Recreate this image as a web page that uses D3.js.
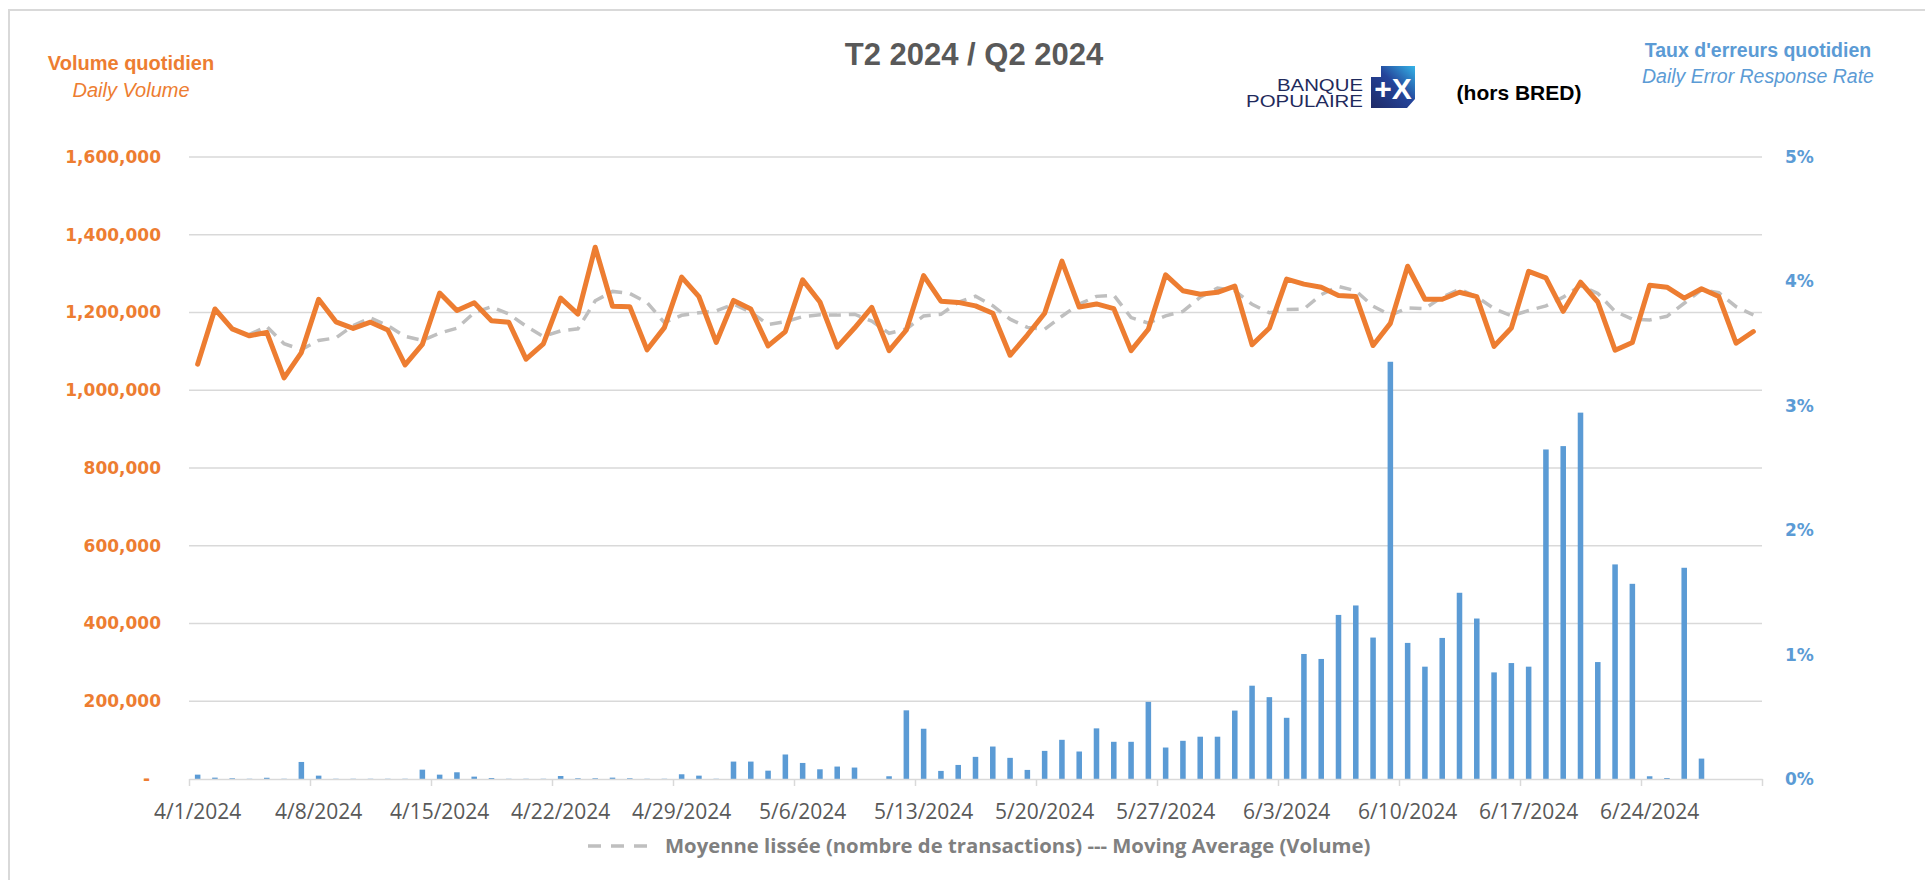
<!DOCTYPE html>
<meta charset="utf-8">
<style>
    body { margin: 0; background: #fff; }
    text { font-family: "Liberation Sans", Arial, sans-serif; }
    .grid line { stroke: #d9d9d9; stroke-width: 1.5px; }
    .axis path, .axis line { stroke: #d9d9d9; stroke-width: 1.5px; }
    .axis--y text { font-family: "DejaVu Sans", sans-serif; font-weight: bold; font-size: 17px; }
    .axis--x text { font-family: "Open Sans", sans-serif; font-size: 21px; fill: #595959; }
</style>
<svg width="1925" height="880"></svg>
<script src="https://d3js.org/d3.v7.min.js"></script>
<script>

    // Q2 2024, one category per day
    var startDay = new Date(2024, 3, 1),
        endDay = new Date(2024, 6, 1);

    var weekLabels = ["4/1/2024", "4/8/2024", "4/15/2024", "4/22/2024", "4/29/2024", "5/6/2024", "5/13/2024",
        "5/20/2024", "5/27/2024", "6/3/2024", "6/10/2024", "6/17/2024", "6/24/2024"];

    // daily volume (transactions)
    var volume = [
        1067000, 1209000, 1158000, 1140000, 1149000, 1032000, 1097000,
        1234000, 1176000, 1159000, 1175000, 1155000, 1065000, 1118000,
        1250000, 1205000, 1225000, 1179000, 1175000, 1080000, 1119000,
        1237000, 1196000, 1368000, 1216000, 1215000, 1104000, 1161000,
        1291000, 1241000, 1123000, 1231000, 1209000, 1114000, 1151000,
        1284000, 1227000, 1111000, 1160000, 1213000, 1102000, 1155000,
        1295000, 1229000, 1226000, 1217000, 1198000, 1090000, 1142000,
        1198000, 1332000, 1214000, 1222000, 1210000, 1102000, 1157000,
        1297000, 1256000, 1247000, 1252000, 1268000, 1117000, 1160000,
        1286000, 1273000, 1265000, 1244000, 1241000, 1115000, 1172000,
        1319000, 1234000, 1234000, 1252000, 1241000, 1113000, 1160000,
        1306000, 1289000, 1203000, 1278000, 1227000, 1103000, 1123000,
        1270000, 1265000, 1237000, 1261000, 1241000, 1121000, 1151000
    ];

    // daily error response rate (%)
    var errorRate = [
        0.035, 0.011, 0.006, 0.002, 0.010, 0.002, 0.137,
        0.027, 0.002, 0.002, 0.002, 0.002, 0.002, 0.075,
        0.035, 0.054, 0.019, 0.008, 0.002, 0.002, 0.002,
        0.024, 0.006, 0.006, 0.011, 0.006, 0.002, 0.002,
        0.038, 0.027, 0.002, 0.140, 0.140, 0.067, 0.197,
        0.129, 0.078, 0.100, 0.092, 0.000, 0.022, 0.552,
        0.404, 0.065, 0.113, 0.178, 0.261, 0.170, 0.073,
        0.226, 0.315, 0.221, 0.407, 0.299, 0.299, 0.620,
        0.253, 0.307, 0.340, 0.340, 0.550, 0.750, 0.658,
        0.492, 1.005, 0.965, 1.319, 1.395, 1.137, 3.354,
        1.094, 0.903, 1.134, 1.497, 1.290, 0.857, 0.932,
        0.903, 2.649, 2.676, 2.945, 0.940, 1.725, 1.569,
        0.022, 0.008, 1.698, 0.164, 0.000, 0.000, 0.000
    ];

    // moving average trendline period
    var maPeriod = 4;

    var days = d3.timeDay.range(startDay, endDay);

    var movingAvg = volume.map(function (v, i) {
        return i < maPeriod - 1 ? null : d3.mean(volume.slice(i - maPeriod + 1, i + 1));
    });

    var svg = d3.select("svg"),
        plot = {left: 189, right: 1762, top: 157, bottom: 779};

    var orange = "#ed7d31", blue = "#5b9bd5";

    var x = d3.scaleBand().domain(d3.range(days.length)).range([plot.left, plot.right])
            .paddingInner(0.68).paddingOuter(0.34),
        xEdge = d3.scaleLinear().domain([0, days.length]).range([plot.left, plot.right]),
        yL = d3.scaleLinear().domain([0, 1600000]).range([plot.bottom, plot.top]),
        yR = d3.scaleLinear().domain([0, 5]).range([plot.bottom, plot.top]);

    // outer frame
    svg.append("rect")
        .attr("x", 9).attr("y", 10)
        .attr("width", 1930).attr("height", 900)
        .attr("fill", "none")
        .attr("stroke", "#d9d9d9")
        .attr("stroke-width", 2);

    var volTicks = d3.range(0, 1600001, 200000);

    svg.append("g")
        .attr("class", "grid")
        .selectAll("line")
        .data(volTicks.slice(1))
        .enter().append("line")
        .attr("x1", plot.left).attr("x2", plot.right)
        .attr("y1", yL).attr("y2", yL);

    // bars: error rate
    svg.append("g")
        .selectAll("rect")
        .data(errorRate)
        .enter().append("rect")
        .attr("x", function (d, i) { return x(i); })
        .attr("y", function (d) { return yR(d); })
        .attr("width", x.bandwidth())
        .attr("height", function (d) { return plot.bottom - yR(d); })
        .attr("fill", blue);

    // x axis: week ticks on day boundaries, labels on day centres
    svg.append("g")
        .attr("class", "axis axis--x")
        .attr("transform", "translate(0," + plot.bottom + ")")
        .call(d3.axisBottom(xEdge).tickValues(d3.range(0, days.length + 1, 7)).tickSize(7).tickSizeOuter(0).tickFormat(""));

    svg.append("g")
        .attr("class", "axis axis--x")
        .attr("transform", "translate(0," + plot.bottom + ")")
        .call(d3.axisBottom(x).tickValues(d3.range(0, days.length, 7)).tickSize(0).tickPadding(25)
            .tickFormat(function (d, i) { return weekLabels[i]; }))
        .call(function (g) { g.select(".domain").remove(); });

    var gL = svg.append("g")
        .attr("class", "axis axis--y")
        .attr("transform", "translate(" + plot.left + ",0)")
        .call(d3.axisLeft(yL).tickValues(volTicks).tickSize(0).tickPadding(28)
            .tickFormat(function (d) { return d === 0 ? "-" : d3.format(",")(d); }));
    gL.select(".domain").remove();
    gL.selectAll("text").attr("fill", orange);
    gL.selectAll("text").filter(function (d) { return d === 0; }).attr("dx", -11);

    var gR = svg.append("g")
        .attr("class", "axis axis--y")
        .attr("transform", "translate(" + plot.right + ",0)")
        .call(d3.axisRight(yR).ticks(5).tickSize(0).tickPadding(23)
            .tickFormat(function (d) { return d + "%"; }));
    gR.select(".domain").remove();
    gR.selectAll("text").attr("fill", blue);

    var line = d3.line()
        .defined(function (d) { return d != null; })
        .x(function (d, i) { return x(i) + x.bandwidth() / 2; })
        .y(function (d) { return yL(d); });

    svg.append("path")
        .datum(movingAvg)
        .attr("d", line)
        .attr("fill", "none")
        .attr("stroke", "#bfbfbf")
        .attr("stroke-width", 3.5)
        .attr("stroke-dasharray", "12,8");

    svg.append("path")
        .datum(volume)
        .attr("d", line)
        .attr("fill", "none")
        .attr("stroke", orange)
        .attr("stroke-width", 5)
        .attr("stroke-linejoin", "round")
        .attr("stroke-linecap", "round");

    // titles
    svg.append("text")
        .attr("x", 974).attr("y", 54).attr("dy", "0.35em")
        .attr("text-anchor", "middle")
        .style("font-size", "31px").style("font-weight", "bold")
        .attr("fill", "#595959")
        .text("T2 2024 / Q2 2024");

    svg.append("text")
        .attr("x", 131).attr("y", 63).attr("dy", "0.35em")
        .attr("text-anchor", "middle")
        .style("font-size", "20px").style("font-weight", "bold")
        .attr("fill", orange)
        .text("Volume quotidien");

    svg.append("text")
        .attr("x", 131).attr("y", 90).attr("dy", "0.35em")
        .attr("text-anchor", "middle")
        .style("font-size", "20px").style("font-style", "italic")
        .attr("fill", orange)
        .text("Daily Volume");

    svg.append("text")
        .attr("x", 1758).attr("y", 50).attr("dy", "0.35em")
        .attr("text-anchor", "middle")
        .style("font-size", "19.5px").style("font-weight", "bold")
        .attr("fill", blue)
        .text("Taux d'erreurs quotidien");

    svg.append("text")
        .attr("x", 1758).attr("y", 76).attr("dy", "0.35em")
        .attr("text-anchor", "middle")
        .style("font-size", "19.5px").style("font-style", "italic")
        .attr("fill", blue)
        .text("Daily Error Response Rate");

    svg.append("text")
        .attr("x", 1519).attr("y", 93).attr("dy", "0.35em")
        .attr("text-anchor", "middle")
        .style("font-size", "21px").style("font-weight", "bold")
        .attr("fill", "#000")
        .text("(hors BRED)");

    // Banque Populaire logo
    var grad = svg.append("defs").append("linearGradient")
        .attr("id", "bp").attr("x1", "0%").attr("y1", "100%").attr("x2", "100%").attr("y2", "0%");
    grad.append("stop").attr("offset", "0%").attr("stop-color", "#1f2a66");
    grad.append("stop").attr("offset", "55%").attr("stop-color", "#24449a");
    grad.append("stop").attr("offset", "100%").attr("stop-color", "#34b4e8");

    svg.append("path")
        .attr("d", "M1381,66 L1415,66 L1415,99 L1407,108 L1371,108 L1371,77 L1381,77 Z")
        .attr("fill", "url(#bp)");

    svg.append("text")
        .attr("x", 1393).attr("y", 88).attr("dy", "0.35em")
        .attr("text-anchor", "middle")
        .style("font-size", "30px").style("font-weight", "bold")
        .attr("fill", "#fff")
        .text("+X");

    svg.append("text")
        .attr("x", 1277).attr("y", 91)
        .attr("textLength", 86).attr("lengthAdjust", "spacingAndGlyphs")
        .style("font-size", "16.5px")
        .attr("fill", "#1f2a5c")
        .text("BANQUE");

    svg.append("text")
        .attr("x", 1246).attr("y", 107)
        .attr("textLength", 117).attr("lengthAdjust", "spacingAndGlyphs")
        .style("font-size", "16.5px")
        .attr("fill", "#1f2a5c")
        .text("POPULAIRE");

    // legend
    svg.append("line")
        .attr("x1", 588).attr("x2", 648)
        .attr("y1", 846).attr("y2", 846)
        .attr("stroke", "#bfbfbf")
        .attr("stroke-width", 3.5)
        .attr("stroke-dasharray", "13,10");

    svg.append("text")
        .attr("x", 665).attr("y", 846).attr("dy", "0.35em")
        .style("font-family", "'Open Sans', sans-serif")
        .style("font-size", "20.3px").style("font-weight", "bold")
        .attr("fill", "#808080")
        .text("Moyenne lissée (nombre de transactions) --- Moving Average (Volume)");

</script>
